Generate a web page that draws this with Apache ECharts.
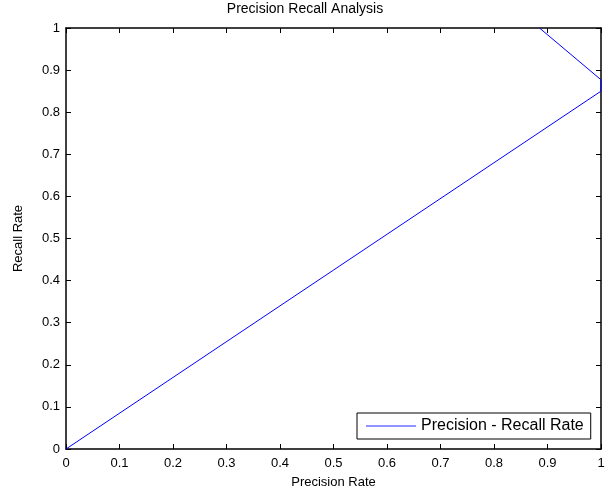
<!DOCTYPE html>
<html>
<head>
<meta charset="utf-8">
<script src="https://cdn.jsdelivr.net/npm/echarts@6/dist/echarts.min.js"></script>
<style>html,body{margin:0;padding:0;background:#fff;}#c{width:610px;height:498px;}</style>
</head>
<body>
<div id="c"></div>
<script>
const precision = [0, 1, 1, 0.885];
const recall = [0, 0.85, 0.877, 1.0];
const tickValues = [0, 0.1, 0.2, 0.3, 0.4, 0.5, 0.6, 0.7, 0.8, 0.9, 1];

const font = 'Liberation Sans, Arial, sans-serif';
const chart = echarts.init(document.getElementById('c'));
const fmt = v => (Math.round(v * 10) / 10).toString();
const baseAxis = {
  type: 'value', min: 0, max: 1, interval: 0.1,
  axisLine: { show: true, onZero: false, lineStyle: { color: '#000', width: 1.5 } },
  axisTick: { show: true, inside: true, length: 5, lineStyle: { color: '#000' } },
  splitLine: { show: false },
  axisLabel: { color: '#000', fontSize: 13, fontFamily: font, formatter: fmt }
};
chart.setOption({
  animation: false,
  title: {
    text: 'Precision Recall Analysis', left: 'center', top: 2, padding: 0,
    textStyle: { fontSize: 14, fontWeight: 'normal', color: '#000', fontFamily: font }
  },
  grid: { left: 66, top: 28, right: 9, bottom: 49, containLabel: false },
  legend: {
    data: ['Precision - Recall Rate'],
    left: 357, top: 413,
    padding: [5, 7, 5, 9],
    borderColor: '#000', borderWidth: 1, backgroundColor: '#fff',
    icon: 'rect', itemWidth: 50, itemHeight: 1.5, itemGap: 5,
    textStyle: { fontSize: 16, color: '#000', fontFamily: font },
    itemStyle: { color: '#6f6fff', opacity: 1 }
  },
  xAxis: [
    Object.assign({}, baseAxis, {
      position: 'bottom',
      name: 'Precision Rate', nameLocation: 'middle', nameGap: 27,
      nameTextStyle: { fontSize: 13, color: '#000', fontFamily: font },
      axisLabel: Object.assign({}, baseAxis.axisLabel, { margin: 8 })
    }),
    Object.assign({}, baseAxis, { position: 'top', axisLabel: { show: false } })
  ],
  yAxis: [
    Object.assign({}, baseAxis, {
      position: 'left',
      name: 'Recall Rate', nameLocation: 'middle', nameGap: 41, nameRotate: 90,
      nameTextStyle: { fontSize: 13, color: '#000', fontFamily: font },
      axisLabel: Object.assign({}, baseAxis.axisLabel, { margin: 6 })
    }),
    Object.assign({}, baseAxis, { position: 'right', axisLabel: { show: false } })
  ],
  series: [{
    name: 'Precision - Recall Rate',
    type: 'line',
    xAxisIndex: 0, yAxisIndex: 0,
    data: precision.map((p, i) => [p, recall[i]]),
    symbol: 'none',
    lineStyle: { color: '#0000ff', width: 1 },
    itemStyle: { color: '#0000ff' },
    clip: true
  }]
});
</script>
</body>
</html>
